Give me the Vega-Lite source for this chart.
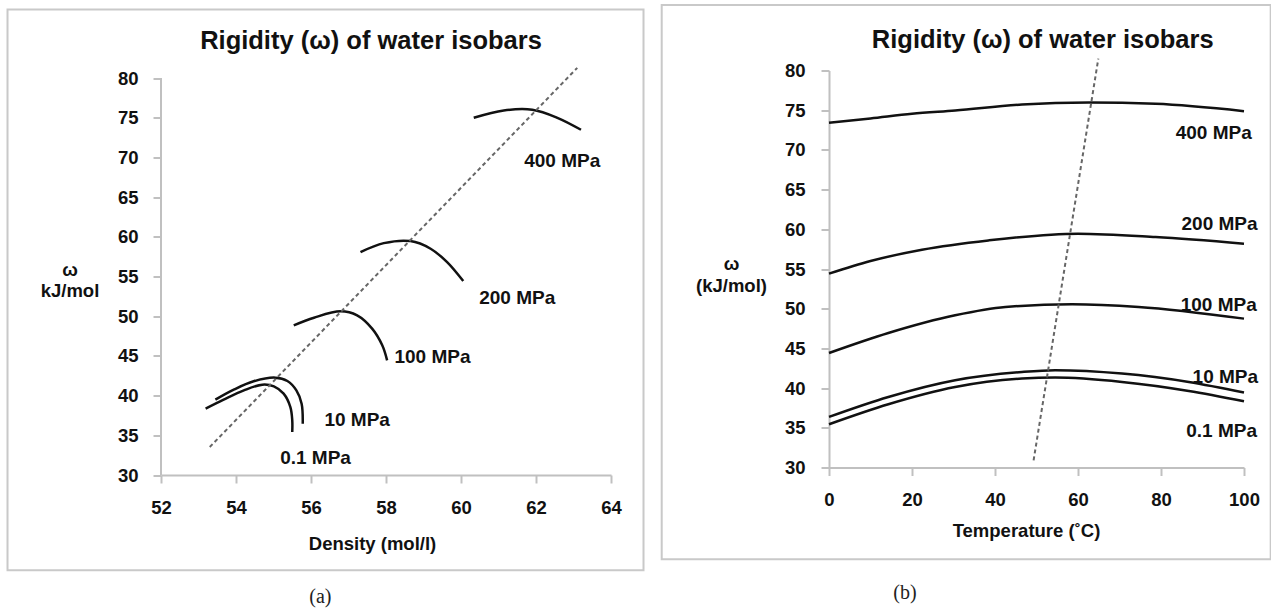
{
  "$schema": "https://vega.github.io/schema/vega-lite/v6.json",
  "padding": {"left": 6, "top": 3.5, "right": 0, "bottom": 0},
  "spacing": 15,
  "background": "white",
  "config": {
    "view": {"stroke": null},
    "font": "Liberation Sans",
    "axis": {
      "grid": false,
      "domainColor": "#c0c0c0",
      "domainWidth": 2,
      "tickColor": "#c0c0c0",
      "tickWidth": 2,
      "tickSize": 8,
      "labelFont": "Liberation Sans",
      "labelFontSize": 18.5,
      "labelFontWeight": "bold",
      "labelColor": "#111111",
      "labelFlush": false,
      "labelPadding": 15,
      "titleFont": "Liberation Sans",
      "titleFontSize": 18.5,
      "titleFontWeight": "bold",
      "titleColor": "#111111"
    }
  },
  "hconcat": [
    {
      "width": 450,
      "height": 404.5,
      "encoding": {
        "x": {"field": "x", "type": "quantitative", "scale": {"domain": [52, 64], "nice": false, "zero": false},
              "axis": {"values": [52, 54, 56, 58, 60, 62, 64], "title": "Density (mol/l)", "titleX": 211, "titleY": 68, "titleBaseline": "middle", "titleAlign": "center"}},
        "y": {"field": "y", "type": "quantitative", "scale": {"domain": [30, 80.945], "nice": false, "zero": false},
              "axis": {"values": [30, 35, 40, 45, 50, 55, 60, 65, 70, 75, 80], "domain": false, "title": ["ω", "kJ/mol"], "titleAngle": 0, "titleX": -91.5, "titleY": 198.5, "titleAlign": "center", "titleBaseline": "middle", "titleLineHeight": 21}}
      },
      "layer": [
        {
          "data": {"values": [{"x": 47.907, "x2": 64.867, "y": 88.63, "y2": 18.0}]},
          "mark": {"type": "rect", "filled": false, "stroke": "#c9c9c9", "strokeWidth": 2, "clip": false},
          "encoding": {
            "x2": {"field": "x2"},
            "y2": {"field": "y2"}
          }
        },
        {
          "data": {"values": [{"x": 52, "y": 30, "y2": 80}]},
          "mark": {"type": "rule", "color": "#c0c0c0", "strokeWidth": 2},
          "encoding": {"y2": {"field": "y2"}}
        },
        {
          "data": {"values": [
            {"p": "0.1 MPa", "i": 0, "x": 53.19, "y": 38.36},
            {"p": "0.1 MPa", "i": 1, "x": 53.67, "y": 39.49},
            {"p": "0.1 MPa", "i": 2, "x": 54.21, "y": 40.66},
            {"p": "0.1 MPa", "i": 3, "x": 54.70, "y": 41.38},
            {"p": "0.1 MPa", "i": 4, "x": 55.01, "y": 41.17},
            {"p": "0.1 MPa", "i": 5, "x": 55.27, "y": 40.25},
            {"p": "0.1 MPa", "i": 6, "x": 55.45, "y": 38.56},
            {"p": "0.1 MPa", "i": 7, "x": 55.50, "y": 36.89},
            {"p": "0.1 MPa", "i": 8, "x": 55.50, "y": 35.42},
            {"p": "10 MPa", "i": 0, "x": 53.45, "y": 39.49},
            {"p": "10 MPa", "i": 1, "x": 53.94, "y": 40.75},
            {"p": "10 MPa", "i": 2, "x": 54.47, "y": 41.80},
            {"p": "10 MPa", "i": 3, "x": 55.05, "y": 42.26},
            {"p": "10 MPa", "i": 4, "x": 55.37, "y": 41.84},
            {"p": "10 MPa", "i": 5, "x": 55.61, "y": 40.66},
            {"p": "10 MPa", "i": 6, "x": 55.75, "y": 38.98},
            {"p": "10 MPa", "i": 7, "x": 55.78, "y": 36.46},
            {"p": "100 MPa", "i": 0, "x": 55.54, "y": 48.85},
            {"p": "100 MPa", "i": 1, "x": 56.08, "y": 49.81},
            {"p": "100 MPa", "i": 2, "x": 56.79, "y": 50.61},
            {"p": "100 MPa", "i": 3, "x": 57.23, "y": 50.10},
            {"p": "100 MPa", "i": 4, "x": 57.63, "y": 48.43},
            {"p": "100 MPa", "i": 5, "x": 57.90, "y": 46.33},
            {"p": "100 MPa", "i": 6, "x": 58.03, "y": 44.44},
            {"p": "200 MPa", "i": 0, "x": 57.32, "y": 58.07},
            {"p": "200 MPa", "i": 1, "x": 57.94, "y": 59.20},
            {"p": "200 MPa", "i": 2, "x": 58.65, "y": 59.46},
            {"p": "200 MPa", "i": 3, "x": 59.19, "y": 58.50},
            {"p": "200 MPa", "i": 4, "x": 59.63, "y": 56.81},
            {"p": "200 MPa", "i": 5, "x": 60.06, "y": 54.42},
            {"p": "400 MPa", "i": 0, "x": 60.34, "y": 74.99},
            {"p": "400 MPa", "i": 1, "x": 61.14, "y": 75.91},
            {"p": "400 MPa", "i": 2, "x": 61.90, "y": 76.00},
            {"p": "400 MPa", "i": 3, "x": 62.57, "y": 74.99},
            {"p": "400 MPa", "i": 4, "x": 63.20, "y": 73.48}
          ]},
          "mark": {"type": "line", "interpolate": "catmull-rom", "color": "#111111", "strokeWidth": 2.5, "clip": false},
          "encoding": {
            "detail": {"field": "p"},
            "order": {"field": "i", "type": "quantitative"}
          }
        },
        {
          "data": {"values": [{"x": 53.3, "y": 33.52}, {"x": 63.1, "y": 81.28}]},
          "mark": {"type": "line", "color": "#666666", "strokeWidth": 2, "strokeDash": [4, 3], "clip": false},
          "encoding": {}
        },
        {
          "data": {"values": [
            {"x": 62.7, "y": 69.6, "t": "400 MPa"},
            {"x": 61.5, "y": 52.33, "t": "200 MPa"},
            {"x": 59.24, "y": 44.86, "t": "100 MPa"},
            {"x": 57.23, "y": 36.97, "t": "10 MPa"},
            {"x": 56.12, "y": 32.19, "t": "0.1 MPa"}
          ]},
          "mark": {"type": "text", "fontSize": 19, "fontWeight": "bold", "color": "#111111", "align": "center", "baseline": "middle", "clip": false},
          "encoding": {"text": {"field": "t"}}
        },
        {
          "data": {"values": [{"x": 57.6, "y": 84.6, "t": "Rigidity (ω) of water isobars"}]},
          "mark": {"type": "text", "fontSize": 25.5, "fontWeight": "bold", "color": "#111111", "align": "center", "baseline": "middle", "clip": false},
          "encoding": {"text": {"field": "t"}}
        },
        {
          "data": {"values": [{"x": 56.25, "y": 14.64, "t": "(a)"}]},
          "mark": {"type": "text", "font": "Liberation Serif", "fontSize": 20, "color": "#222222", "align": "center", "baseline": "middle", "clip": false},
          "encoding": {"text": {"field": "t"}}
        }
      ]
    },
    {
      "width": 415,
      "height": 397,
      "encoding": {
        "x": {"field": "x", "type": "quantitative", "scale": {"domain": [0, 100], "nice": false, "zero": false},
              "axis": {"values": [0, 20, 40, 60, 80, 100], "title": "Temperature (˚C)", "titleX": 197, "titleY": 63, "titleBaseline": "middle", "titleAlign": "center"}},
        "y": {"field": "y", "type": "quantitative", "scale": {"domain": [30, 80], "nice": false, "zero": false},
              "axis": {"values": [30, 35, 40, 45, 50, 55, 60, 65, 70, 75, 80], "labelPadding": 16, "title": ["ω", "(kJ/mol)"], "titleAngle": 0, "titleX": -98, "titleY": 193, "titleAlign": "center", "titleBaseline": "middle", "titleLineHeight": 22}}
      },
      "layer": [
        {
          "data": {"values": [{"x": -40.31, "x2": 106.43, "y": 88.25, "y2": 18.45}]},
          "mark": {"type": "rect", "filled": false, "stroke": "#c9c9c9", "strokeWidth": 2, "clip": false},
          "encoding": {
            "x2": {"field": "x2"},
            "y2": {"field": "y2"}
          }
        },
        {
          "data": {"values": [
            {"p": "400 MPa", "x": 0, "y": 73.42},
            {"p": "400 MPa", "x": 10, "y": 73.96},
            {"p": "400 MPa", "x": 20, "y": 74.55},
            {"p": "400 MPa", "x": 30.4, "y": 74.97},
            {"p": "400 MPa", "x": 46.5, "y": 75.72},
            {"p": "400 MPa", "x": 62.6, "y": 75.97},
            {"p": "400 MPa", "x": 78.7, "y": 75.8},
            {"p": "400 MPa", "x": 100, "y": 74.88},
            {"p": "200 MPa", "x": 0, "y": 54.41},
            {"p": "200 MPa", "x": 10, "y": 56.0},
            {"p": "200 MPa", "x": 22.4, "y": 57.43},
            {"p": "200 MPa", "x": 38.4, "y": 58.6},
            {"p": "200 MPa", "x": 60, "y": 59.45},
            {"p": "200 MPa", "x": 78.7, "y": 59.02},
            {"p": "200 MPa", "x": 100, "y": 58.19},
            {"p": "100 MPa", "x": 0, "y": 44.42},
            {"p": "100 MPa", "x": 14.3, "y": 46.94},
            {"p": "100 MPa", "x": 30.4, "y": 49.17},
            {"p": "100 MPa", "x": 42.5, "y": 50.21},
            {"p": "100 MPa", "x": 58.6, "y": 50.55},
            {"p": "100 MPa", "x": 74.6, "y": 50.21},
            {"p": "100 MPa", "x": 100, "y": 48.75},
            {"p": "10 MPa", "x": 0, "y": 36.37},
            {"p": "10 MPa", "x": 14.3, "y": 38.88},
            {"p": "10 MPa", "x": 30.4, "y": 40.99},
            {"p": "10 MPa", "x": 46.5, "y": 42.03},
            {"p": "10 MPa", "x": 54.5, "y": 42.25},
            {"p": "10 MPa", "x": 70.6, "y": 41.83},
            {"p": "10 MPa", "x": 86.7, "y": 40.77},
            {"p": "10 MPa", "x": 100, "y": 39.44},
            {"p": "0.1 MPa", "x": 0, "y": 35.45},
            {"p": "0.1 MPa", "x": 14.3, "y": 37.97},
            {"p": "0.1 MPa", "x": 30.4, "y": 40.14},
            {"p": "0.1 MPa", "x": 46.5, "y": 41.2},
            {"p": "0.1 MPa", "x": 54.5, "y": 41.32},
            {"p": "0.1 MPa", "x": 70.6, "y": 40.77},
            {"p": "0.1 MPa", "x": 86.7, "y": 39.64},
            {"p": "0.1 MPa", "x": 100, "y": 38.34}
          ]},
          "mark": {"type": "line", "interpolate": "monotone", "color": "#111111", "strokeWidth": 2.5, "clip": false},
          "encoding": {"detail": {"field": "p"}}
        },
        {
          "data": {"values": [{"x": 49.3, "y": 30.9}, {"x": 64.9, "y": 81.5}]},
          "mark": {"type": "line", "color": "#666666", "strokeWidth": 2, "strokeDash": [4, 3], "clip": false},
          "encoding": {}
        },
        {
          "data": {"values": [
            {"x": 92.7, "y": 72.1, "t": "400 MPa"},
            {"x": 94.1, "y": 60.7, "t": "200 MPa"},
            {"x": 93.9, "y": 50.42, "t": "100 MPa"},
            {"x": 95.5, "y": 41.4, "t": "10 MPa"},
            {"x": 94.6, "y": 34.6, "t": "0.1 MPa"}
          ]},
          "mark": {"type": "text", "fontSize": 19, "fontWeight": "bold", "color": "#111111", "align": "center", "baseline": "middle", "clip": false},
          "encoding": {"text": {"field": "t"}}
        },
        {
          "data": {"values": [{"x": 51.5, "y": 83.9, "t": "Rigidity (ω) of water isobars"}]},
          "mark": {"type": "text", "fontSize": 25.5, "fontWeight": "bold", "color": "#111111", "align": "center", "baseline": "middle", "clip": false},
          "encoding": {"text": {"field": "t"}}
        },
        {
          "data": {"values": [{"x": 18.3, "y": 14.2, "t": "(b)"}]},
          "mark": {"type": "text", "font": "Liberation Serif", "fontSize": 20, "color": "#222222", "align": "center", "baseline": "middle", "clip": false},
          "encoding": {"text": {"field": "t"}}
        }
      ]
    }
  ]
}
